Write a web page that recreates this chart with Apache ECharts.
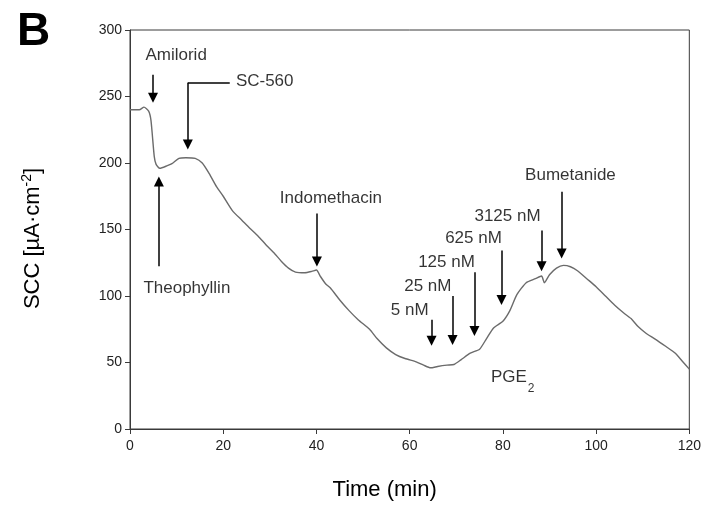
<!DOCTYPE html>
<html>
<head>
<meta charset="utf-8">
<script src="https://cdn.jsdelivr.net/npm/echarts@6/dist/echarts.min.js"></script>
<style>
html,body{margin:0;padding:0;background:#fff;}
#chart{width:704px;height:506px;}
</style>
</head>
<body>
<div id="chart"></div>
<script>
// ---- data ----
const timeMin = [0, 2, 3, 4, 4.5, 5.2, 5.6, 6.4, 8, 9, 10.5, 12, 14, 15.5, 17, 18.6, 20, 22, 24, 25.7,
  27.5, 29.3, 31, 32.5, 34, 35.5, 37.5, 39, 40, 40.8, 42, 43, 45, 47, 49, 51.4, 53, 55, 57, 59,
  61.4, 63, 64.5, 66, 68, 69.5, 71, 73, 75, 76.5, 78, 80, 81.5, 83, 85, 87, 88.3, 88.9, 90, 91.5,
  93, 94.5, 96, 98, 100, 102, 104, 106, 107.5, 109, 110.7, 112.5, 115, 117, 118.5, 120];
const sccValues = [240, 240, 242, 239, 232, 205, 199, 196, 198, 199.5, 203.5, 204, 203.5, 200, 192, 182, 175, 164, 157, 151,
  145, 138, 132, 126, 121, 118, 117.5, 118.5, 119.5, 115, 109, 106, 97, 89, 82, 75, 68, 61, 56, 53,
  50.5, 48, 46, 47, 48, 48.5, 52, 57, 60, 68, 76, 81, 89, 101, 110, 113, 115, 110, 116, 121,
  123, 122, 119, 113, 107, 100, 93, 87, 83, 77, 72, 68, 62, 57, 51, 45];

const xTicks = [0, 20, 40, 60, 80, 100, 120];
const yTicks = [0, 50, 100, 150, 200, 250, 300];

// annotation texts and their anchor (time, SCC level)
const labelTexts = ['Amilorid', 'SC-560', 'Theophyllin', 'Indomethacin', 'Bumetanide',
  '3125 nM', '625 nM', '125 nM', '25 nM', '5 nM', '{a|PGE}{s|2}'];
const labelTimes = [9.9, 28.9, 12.2, 43.1, 94.5, 81.0, 73.7, 67.9, 63.9, 60.0, 82.1];
const labelLevels = [281.3, 261.2, 106, 173.1, 191, 159.7, 143.3, 125.4, 107.5, 89.6, 38.8];

// arrows: time of addition, start level, tip level
const arrowTimes = [4.93, 12.4, 6.2, 40.1, 92.6, 88.3, 79.7, 73.9, 69.2, 64.7];
const arrowFrom = [266.4, 260.4, 122.4, 162, 178.4, 149.3, 134.3, 117.9, 100, 82.1];
const arrowTo = [245.5, 210.4, 189.6, 122.4, 128.4, 118.7, 93.3, 70.1, 63.4, 62.7];
// SC-560 elbow leader
const elbowFromTime = 21.4;

// ---- chart ----
const FONT = '"Liberation Sans", Arial, sans-serif';
const chart = echarts.init(document.getElementById('chart'), null, {renderer: 'canvas'});

const curve = timeMin.map((t, i) => [t, sccValues[i]]);
const HALF = 3.6; // half arrowhead length expressed in SCC units
const arrowLines = arrowTimes.map((t, i) => {
  const dir = arrowTo[i] < arrowFrom[i] ? 1 : -1;
  return [{coord: [t, arrowFrom[i]], symbol: 'none'},
          {coord: [t, arrowTo[i] + dir * HALF], symbol: 'triangle'}];
});
arrowLines.push([{coord: [elbowFromTime, arrowFrom[1]], symbol: 'none'},
                 {coord: [arrowTimes[1], arrowFrom[1]], symbol: 'none'}]);

const labelData = labelTexts.map((txt, i) => ({value: [labelTimes[i], labelLevels[i]], name: txt}));

chart.setOption({
  animation: false,
  backgroundColor: '#ffffff',
  title: {
    text: 'B', left: 12, top: 4,
    textStyle: {fontFamily: FONT, fontSize: 46, fontWeight: 'bold', color: '#000'}
  },
  grid: {left: 130, right: 14, top: 30, bottom: 74, show: true, borderColor: '#3a3a3a', borderWidth: 1, backgroundColor: 'transparent'},
  xAxis: {
    type: 'value', min: xTicks[0], max: xTicks[xTicks.length - 1], interval: xTicks[1] - xTicks[0],
    name: 'Time (min)', nameLocation: 'middle', nameGap: 50,
    nameTextStyle: {fontFamily: FONT, fontSize: 22, color: '#000', padding: [0, 50, 0, 0]},
    axisLine: {show: true, lineStyle: {color: '#3a3a3a', width: 1}},
    axisTick: {show: true, inside: false, length: 5, lineStyle: {color: '#3a3a3a'}},
    axisLabel: {fontFamily: FONT, fontSize: 14, color: '#222', margin: 10},
    splitLine: {show: false}
  },
  yAxis: {
    type: 'value', min: yTicks[0], max: yTicks[yTicks.length - 1], interval: yTicks[1] - yTicks[0],
    name: '{t|SCC [µA·cm}{p|-2}{t|]}', nameLocation: 'middle', nameGap: 84,
    nameTextStyle: {
      fontFamily: FONT, color: '#000', padding: [0, 18, 0, 0],
      rich: {
        t: {fontFamily: FONT, fontSize: 22, color: '#000', lineHeight: 26},
        p: {fontFamily: FONT, fontSize: 14, color: '#000', verticalAlign: 'top', lineHeight: 26}
      }
    },
    axisLine: {show: true, lineStyle: {color: '#3a3a3a', width: 1}},
    axisTick: {show: true, inside: false, length: 5, lineStyle: {color: '#3a3a3a'}},
    axisLabel: {fontFamily: FONT, fontSize: 14, color: '#222', margin: 8},
    splitLine: {show: false}
  },
  series: [
    {
      type: 'line', data: curve, showSymbol: false, symbol: 'none', smooth: 0.2,
      lineStyle: {color: '#6b6b6b', width: 1.4},
      markLine: {
        silent: true, symbolSize: 10, precision: 2,
        label: {show: false},
        lineStyle: {color: '#000', width: 1.5, type: 'solid'},
        emphasis: {disabled: true},
        data: arrowLines
      }
    },
    {
      type: 'scatter', data: labelData, symbolSize: 1, silent: true,
      itemStyle: {color: 'rgba(0,0,0,0)'},
      label: {
        show: true, position: 'inside', formatter: p => p.name,
        fontFamily: FONT, fontSize: 17, color: '#000',
        rich: {
          a: {fontFamily: FONT, fontSize: 17, color: '#000', lineHeight: 22},
          s: {fontFamily: FONT, fontSize: 12, color: '#000', verticalAlign: 'bottom', lineHeight: 14, padding: [0, 0, -6, 1]}
        }
      }
    }
  ]
});
</script>
</body>
</html>
